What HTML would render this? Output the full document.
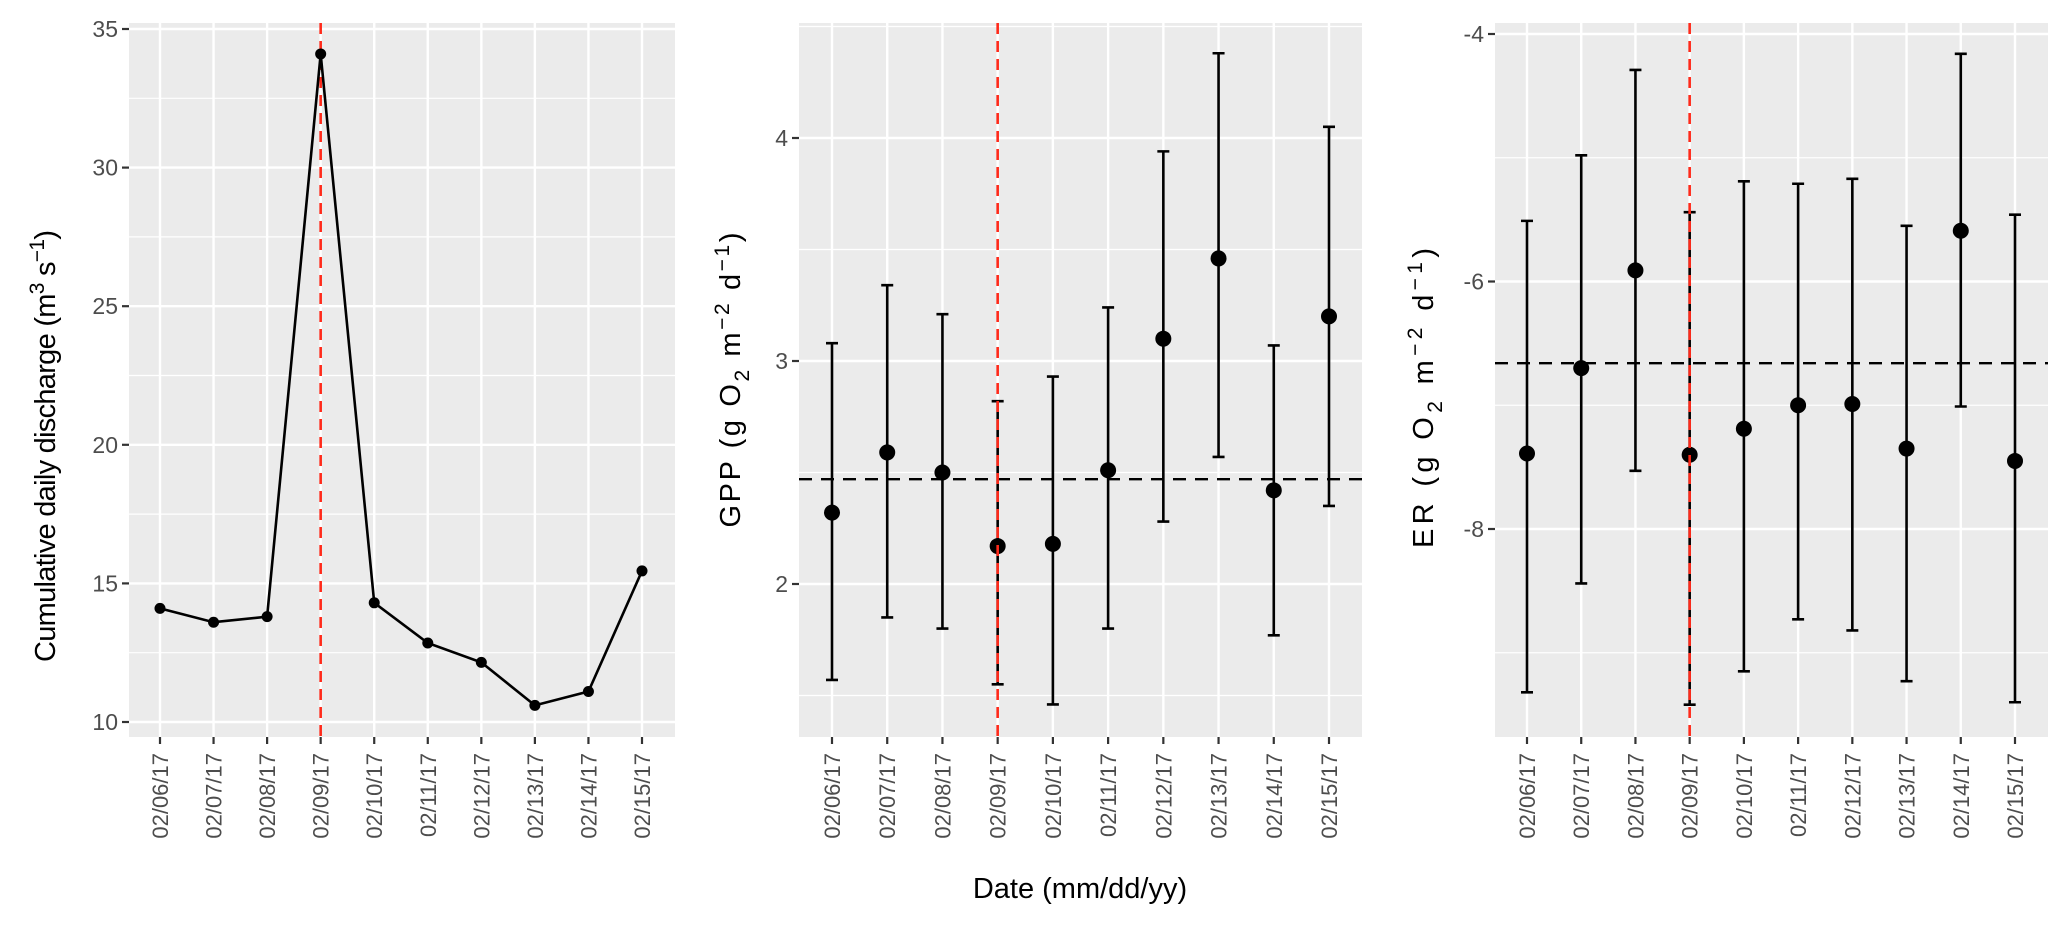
<!DOCTYPE html>
<html><head><meta charset="utf-8"><style>
html,body{margin:0;padding:0;background:#fff;}
svg{display:block;font-family:"Liberation Sans",Arial,sans-serif;}
</style></head><body>
<svg id="chart" width="2067" height="925" viewBox="0 0 2067 925" xmlns="http://www.w3.org/2000/svg"></svg>
<script>
const dates = ["02/06/17","02/07/17","02/08/17","02/09/17","02/10/17","02/11/17","02/12/17","02/13/17","02/14/17","02/15/17"];
const dischargeValues = [14.1,13.6,13.8,34.1,14.3,12.85,12.15,10.6,11.1,15.45];
const dischargeTicks = [10,15,20,25,30,35];
const gppMean = [2.32,2.59,2.50,2.17,2.18,2.51,3.10,3.46,2.42,3.20];
const gppLower = [1.57,1.85,1.80,1.55,1.46,1.80,2.28,2.57,1.77,2.35];
const gppUpper = [3.08,3.34,3.21,2.82,2.93,3.24,3.94,4.38,3.07,4.05];
const gppOverall = 2.47;
const gppTicks = [2,3,4];
const erMean = [-7.39,-6.70,-5.91,-7.40,-7.19,-7.00,-6.99,-7.35,-5.59,-7.45];
const erLower = [-9.32,-8.44,-7.53,-9.42,-9.15,-8.73,-8.82,-9.23,-7.01,-9.40];
const erUpper = [-5.51,-4.98,-4.29,-5.44,-5.19,-5.21,-5.17,-5.55,-4.16,-5.46];
const erOverall = -6.66;
const erTicks = [-8,-6,-4];
const eventIndex = 3;

const NS="http://www.w3.org/2000/svg";
const svg=document.getElementById('chart');
function el(tag,attrs,parent){const e=document.createElementNS(NS,tag);for(const k in attrs)e.setAttribute(k,attrs[k]);(parent||svg).appendChild(e);return e;}

function panel(cfg){
  const g=el('g',{});
  
  
  const {x0,x1,y0,y1,vTop,vBot}=cfg;
  const ys=v=>y0+(vTop-v)/(vTop-vBot)*(y1-y0);
  const n=dates.length;
  const xs=i=>cfg.xFirst+i*(cfg.xLast-cfg.xFirst)/(n-1);
  const bg=el('rect',{x:x0,y:y0,width:x1-x0,height:y1-y0,fill:'#ebebeb'},g);
  
  
  const step=cfg.ticks[1]-cfg.ticks[0];
  for(let v=cfg.ticks[0]-step*2;v<=cfg.ticks[cfg.ticks.length-1]+step*2;v+=step/2){
    const y=ys(v); if(y<y0||y>y1) continue;
    el('line',{x1:x0,x2:x1,y1:y,y2:y,stroke:'#fff','stroke-width':cfg.ticks.some(t=>Math.abs(t-v)<1e-9)?2.4:1.2},g);
  }
  dates.forEach((d,i)=>{el('line',{x1:xs(i),x2:xs(i),y1:y0,y2:y1,stroke:'#fff','stroke-width':2.4},g);});
  cfg.ticks.forEach(t=>{
    const y=ys(t);
    el('line',{x1:x0-7,x2:x0,y1:y,y2:y,stroke:'#333','stroke-width':2.2},g);
    const tx=el('text',{x:x0-11,y:y+8,'text-anchor':'end','font-size':23,fill:'#4d4d4d'},g);
    tx.textContent=t;
    
    
  });
  dates.forEach((d,i)=>{
    const x=xs(i);
    el('line',{x1:x,x2:x,y1:y1,y2:y1+7,stroke:'#333','stroke-width':2.2},g);
    const tx=el('text',{x:0,y:0,'text-anchor':'end','font-size':22,fill:'#4d4d4d',transform:`translate(${x+8},${y1+16}) rotate(-90)`},g);
    tx.textContent=d;
    
    
  });
  const yt=el('text',{x:0,y:0,'text-anchor':'middle','font-size':29,fill:'#000',textLength:cfg.titleLen,lengthAdjust:'spacing',transform:`translate(${cfg.titleX},${cfg.titleY}) rotate(-90)`},g);
  yt.innerHTML=cfg.title;
  
  
  return {g,xs,ys};
}

(function(){
  const p=panel({name:'discharge-panel',x0:129,x1:675,y0:23,y1:737,vTop:35+6/27.72,vBot:10-15/27.72,xFirst:160,xLast:642,ticks:dischargeTicks,titleX:55,titleY:446,titleLen:432,
    title:'Cumulative daily discharge (m<tspan dy="-11" font-size="21">3</tspan><tspan dy="11"> s</tspan><tspan dy="-11" font-size="21">−1</tspan><tspan dy="11">)</tspan>'});
  const ev=el('line',{x1:p.xs(eventIndex),x2:p.xs(eventIndex),y1:23,y2:737,stroke:'#ff2a1a','stroke-width':2.6,'stroke-dasharray':'11,7'},p.g);
  
  
  const pts=dischargeValues.map((v,i)=>p.xs(i)+','+p.ys(v)).join(' ');
  const ln=el('polyline',{points:pts,fill:'none',stroke:'#000','stroke-width':2.6},p.g);
  
  
  dischargeValues.forEach((v,i)=>{
    const c=el('circle',{cx:p.xs(i),cy:p.ys(v),r:5.5,fill:'#000'},p.g);
    
    
  });
})();

function errPanel(cfg,mean,lo,hi,overall){
  const p=panel(cfg);
  const hl=el('line',{x1:cfg.x0,x2:cfg.x1,y1:p.ys(overall),y2:p.ys(overall),stroke:'#000','stroke-width':2.4,'stroke-dasharray':'13,9'},p.g);
  
  
  mean.forEach((m,i)=>{
    const x=p.xs(i);
    const eb=el('path',{d:`M${x-6},${p.ys(hi[i])}H${x+6}M${x},${p.ys(hi[i])}V${p.ys(lo[i])}M${x-6},${p.ys(lo[i])}H${x+6}`,stroke:'#000','stroke-width':2.6,fill:'none'},p.g);
    
    
    const c=el('circle',{cx:x,cy:p.ys(m),r:8,fill:'#000'},p.g);
    
    
  });
  const ev=el('line',{x1:p.xs(eventIndex),x2:p.xs(eventIndex),y1:cfg.y0,y2:cfg.y1,stroke:'#ff2a1a','stroke-width':2.6,'stroke-dasharray':'11,7'},p.g);
  
  
}

errPanel({name:'gpp-panel',x0:799,x1:1362,y0:23,y1:737,vTop:4+(138-23)/223,vBot:2-(737-584)/223,xFirst:832,xLast:1329,ticks:gppTicks,titleX:740,titleY:380,titleLen:295,
  title:'GPP (g O<tspan dy="9" font-size="21">2</tspan><tspan dy="-9"> m</tspan><tspan dy="-11" font-size="21">−2</tspan><tspan dy="11"> d</tspan><tspan dy="-11" font-size="21">−1</tspan><tspan dy="11">)</tspan>'},gppMean,gppLower,gppUpper,gppOverall);

errPanel({name:'er-panel',x0:1495,x1:2048,y0:23,y1:737,vTop:-4+(34-23)/123.75,vBot:-8-(737-529)/123.75,xFirst:1527,xLast:2015,ticks:erTicks,titleX:1433,titleY:398,titleLen:300,
  title:'ER (g O<tspan dy="9" font-size="21">2</tspan><tspan dy="-9"> m</tspan><tspan dy="-11" font-size="21">−2</tspan><tspan dy="11"> d</tspan><tspan dy="-11" font-size="21">−1</tspan><tspan dy="11">)</tspan>'},erMean,erLower,erUpper,erOverall);

const xt=el('text',{x:1080,y:898,'text-anchor':'middle','font-size':29,fill:'#000'});
xt.textContent='Date (mm/dd/yy)';


</script>
</body></html>
